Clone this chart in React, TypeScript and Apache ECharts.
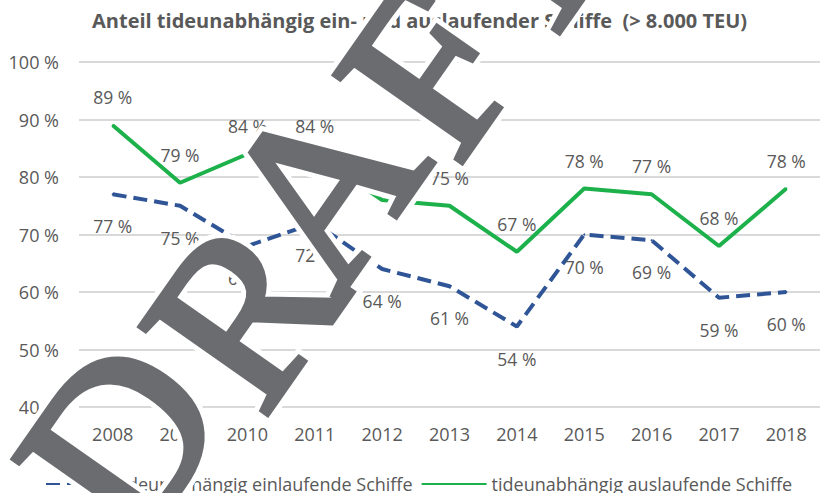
import React, { useEffect, useRef } from "react";
import * as echarts from "echarts";

const years = ["2008", "2009", "2010", "2011", "2012", "2013", "2014", "2015", "2016", "2017", "2018"];
const einlaufend = [77, 75, 68, 72, 64, 61, 54, 70, 69, 59, 60];
const auslaufend = [89, 79, 84, 84, 76, 75, 67, 78, 77, 68, 78];
const yMin = 40;
const yMax = 100;
const yStep = 10;
const titleText = "Anteil tideunabhängig ein- und auslaufender Schiffe  (> 8.000 TEU)";
const seriesNames = ["tideunabhängig einlaufende Schiffe", "tideunabhängig auslaufende Schiffe"];
const watermarkLetters = ["D", "R", "A", "F", "T"];

const FONT = "'Open Sans', Lato, sans-serif";
const GREY = "#595959";

export default function App() {
  const ref = useRef<HTMLDivElement>(null);
  useEffect(() => {
    document.body.style.margin = "0";
    const chart = echarts.init(ref.current as HTMLDivElement, null, { renderer: "svg" });

    // watermark: rotated serif letters, each placed by its centre
    const th = (55 * Math.PI) / 180;
    const size = 235;
    const centres = [
      [120, 438],
      [243, 311],
      [321, 186],
      [430, 70],
      [515, -42],
    ];
    const wm: any[] = [];
    watermarkLetters.forEach((ch, i) => {
      const base = {
        type: "text",
        x: centres[i][0],
        y: centres[i][1],
        rotation: th,
        silent: true,
      };
      const st = {
        text: ch,
        font: `${size}px 'Liberation Serif', 'DejaVu Serif', serif`,
        align: "center",
        verticalAlign: "middle",
      };
      wm.push({ ...base, z: 100, style: { ...st, fill: "#ffffff", stroke: "#ffffff", lineWidth: 16 } });
      wm.push({ ...base, z: 101, style: { ...st, fill: "#6b6c70", stroke: "#6b6c70", lineWidth: 6 } });
    });

    chart.setOption({
      animation: false,
      backgroundColor: "#ffffff",
      textStyle: { fontFamily: FONT },
      title: {
        text: titleText,
        left: 87,
        top: 5,
        textStyle: { fontFamily: FONT, fontSize: 20, fontWeight: "bold", color: GREY },
      },
      grid: { left: 79, right: 2, top: 62, bottom: 86, containLabel: false },
      legend: {
        left: 40,
        top: 470,
        itemWidth: 65,
        itemHeight: 14,
        itemGap: 8,
        itemStyle: { opacity: 0 },
        textStyle: { fontFamily: FONT, fontSize: 18, color: GREY },
        data: seriesNames,
      },
      xAxis: {
        type: "category",
        data: years,
        boundaryGap: true,
        axisLine: { show: false },
        axisTick: { show: false },
        axisLabel: { margin: 18, fontSize: 18, color: GREY, fontFamily: FONT },
      },
      yAxis: {
        type: "value",
        min: yMin,
        max: yMax,
        interval: yStep,
        axisLine: { show: false },
        axisTick: { show: false },
        axisLabel: { margin: 20, fontSize: 18, color: GREY, fontFamily: FONT, formatter: "{value} %" },
        splitLine: { lineStyle: { color: "#d9d9d9", width: 2 } },
      },
      series: [
        {
          name: seriesNames[0],
          type: "line",
          data: einlaufend,
          symbol: "circle",
          symbolSize: 2,
          itemStyle: { color: "#2F5597" },
          lineStyle: { color: "#2F5597", width: 4, type: [14, 7] },
          label: {
            show: true,
            position: "bottom",
            distance: 22,
            fontSize: 17.5,
            color: GREY,
            fontFamily: FONT,
            formatter: (p: any) => p.value + " %",
          },
          z: 3,
        },
        {
          name: seriesNames[1],
          type: "line",
          data: auslaufend,
          symbol: "circle",
          symbolSize: 2,
          itemStyle: { color: "#1DB14B" },
          lineStyle: { color: "#1DB14B", width: 4 },
          label: {
            show: true,
            position: "top",
            distance: 18,
            fontSize: 17.5,
            color: GREY,
            fontFamily: FONT,
            formatter: (p: any) => p.value + " %",
          },
          z: 3,
        },
      ],
      graphic: wm,
    });
    return () => chart.dispose();
  }, []);
  return <div ref={ref} style={{ width: 822, height: 493 }} />;
}
